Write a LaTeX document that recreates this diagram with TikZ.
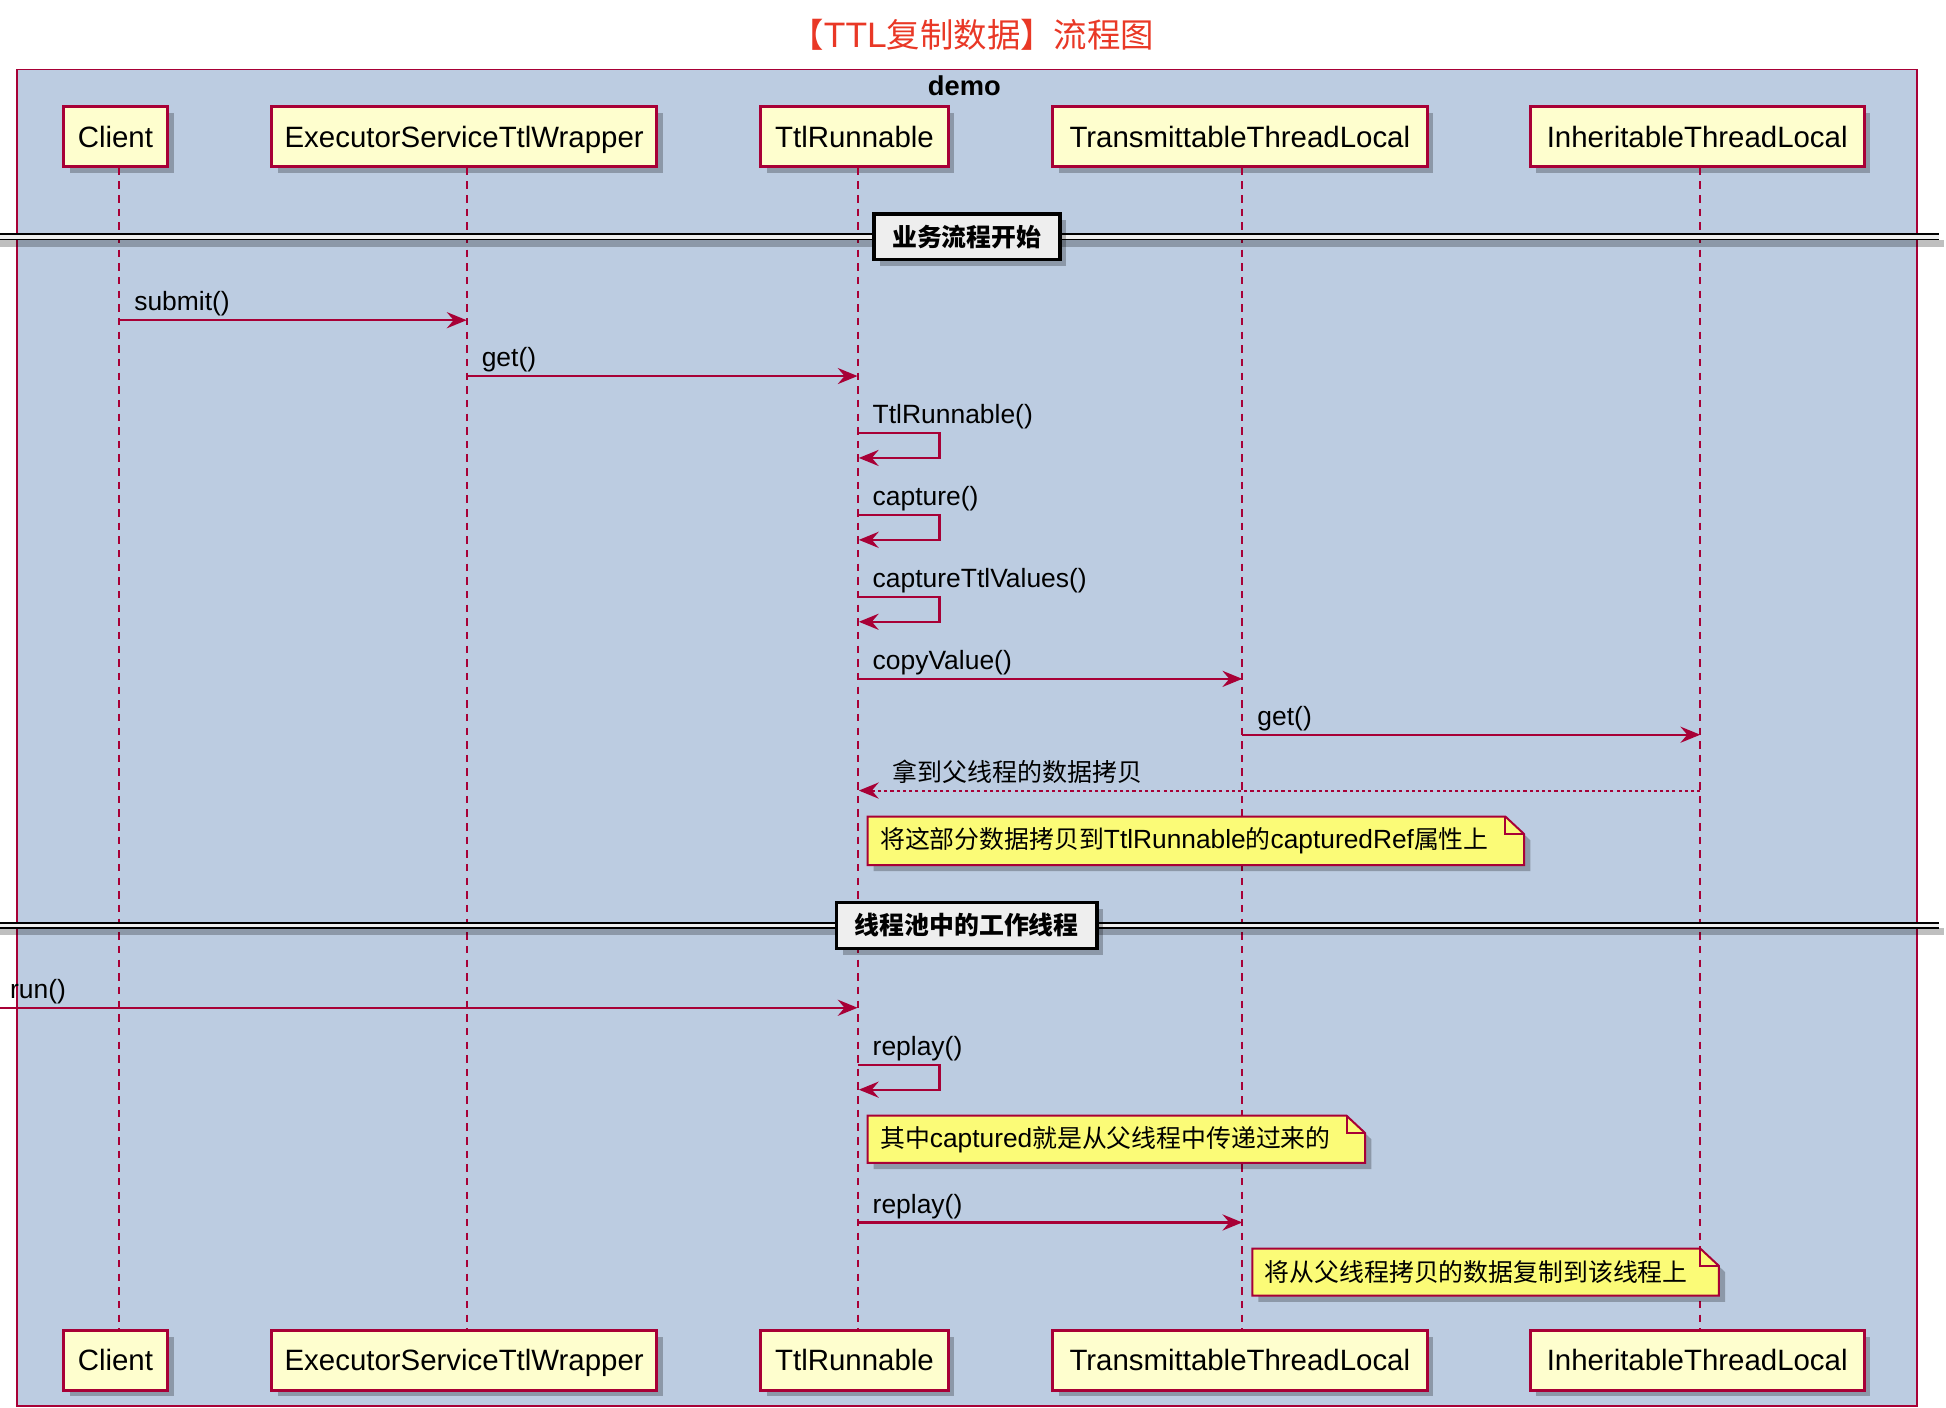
\documentclass[tikz,border=0pt]{standalone}
\usepackage{fontspec}
\setmainfont{Liberation Sans}
\newfontfamily\cjk[Scale=0.945]{Noto Sans CJK SC}
\usetikzlibrary{arrows.meta,shadows,calc}
\newcommand{\zh}[1]{{\cjk #1}}
\definecolor{umlred}{RGB}{168,0,54}
\definecolor{framebg}{RGB}{188,204,225}
\definecolor{partbg}{RGB}{254,254,206}
\definecolor{notebg}{RGB}{251,251,119}
\definecolor{divbg}{RGB}{238,238,238}
\definecolor{titlered}{RGB}{233,56,38}
\tikzset{
  shd/.style={drop shadow={shadow xshift=5pt, shadow yshift=-5pt, opacity=0.25, fill=black}},
  part/.style={draw=umlred, line width=2.4pt, fill=partbg, minimum height=48pt, inner sep=0pt,
    text height=17pt, text depth=0pt, font=\fontsize{23.7}{28}\selectfont, shd},
  lifeline/.style={draw=umlred, line width=1.5pt, dash pattern=on 6pt off 5pt},
  msg/.style={draw=umlred, line width=1.7pt, -{Stealth[length=16pt,width=13pt,inset=5.5pt]}},
  ret/.style={msg, dash pattern=on 2.5pt off 2.5pt},
  lbl/.style={anchor=base west, inner sep=0pt, font=\fontsize{21.3}{25}\selectfont},
  notefr/.style={draw=none, inner sep=0pt, outer sep=0pt},
  noteline/.style={draw=umlred, line width=1.6pt, fill=notebg, shd},
  notefold/.style={draw=umlred, line width=1.6pt},
  notetxt/.style={inner sep=0pt, font=\fontsize{21.2}{25}\selectfont},
  divbox/.style={draw=black, line width=3pt, fill=divbg, inner sep=0pt,
    font=\bfseries\fontsize{21.2}{24}\selectfont, shd},
  frame/.style={draw=umlred, line width=1.6pt, fill=framebg, inner sep=0pt, outer sep=0pt}
}
\newcommand{\umlnote}[6]{%
  \node[notefr, minimum width=#4pt, minimum height=#5pt, anchor=north west] (#1) at (#2,#3) {};
  \draw[noteline] (#1.north west) -- ([xshift=-15pt]#1.north east) -- ([yshift=-14pt]#1.north east)
     -- (#1.south east) -- (#1.south west) -- cycle;
  \draw[notefold] ([xshift=-15pt]#1.north east) -- ([xshift=-15pt,yshift=-14pt]#1.north east)
     -- ([yshift=-14pt]#1.north east);
  \node[notetxt, anchor=west] (#1t) at ([xshift=10pt]#1.west) {#6};}
\newcommand{\umldivider}[5]{% name, y, width, x, text
  \fill[black, opacity=0.25] (0,#2+2.3) rectangle (1566,#2+8);
  \fill[divbg] (0,#2-2.3) rectangle (1562,#2+2.3);
  \draw[line width=1.5pt] (0,#2-2.3) -- (1562,#2-2.3);
  \draw[line width=1.5pt] (0,#2+2.3) -- (1562,#2+2.3);
  \node[divbox, minimum width=#3pt, minimum height=37pt] (#1) at (#4,#2) {#5};}
\begin{document}
\begin{tikzpicture}[x=1pt,y=-1pt]
\useasboundingbox (0,0) rectangle (1568,1134.5);
% title
\node[font=\fontsize{28.5}{33}\selectfont, text=titlered, inner sep=0pt] (title) at (783.5,28) {\zh{【}TTL\zh{复制数据】流程图}};
% frame
\node[frame, minimum width=1531pt, minimum height=1077pt, anchor=north west] (frm) at (14,56) {};
\node[font=\bfseries\fontsize{22}{26}\selectfont, inner sep=0pt] (demo) at (777,69) {demo};
% participants top
\node[part, minimum width=84pt]  (cT) at (93,110) {Client};
\node[part, minimum width=310pt] (eT) at (374,110) {ExecutorServiceTtlWrapper};
\node[part, minimum width=151pt] (rT) at (688.5,110) {TtlRunnable};
\node[part, minimum width=302pt] (tT) at (999,110) {TransmittableThreadLocal};
\node[part, minimum width=269pt] (iT) at (1367.5,110) {InheritableThreadLocal};
% participants bottom
\node[part, minimum width=84pt]  (cB) at (93,1096) {Client};
\node[part, minimum width=310pt] (eB) at (374,1096) {ExecutorServiceTtlWrapper};
\node[part, minimum width=151pt] (rB) at (688.5,1096) {TtlRunnable};
\node[part, minimum width=302pt] (tB) at (999,1096) {TransmittableThreadLocal};
\node[part, minimum width=269pt] (iB) at (1367.5,1096) {InheritableThreadLocal};
% lifeline x positions
\coordinate (lC) at (96,134);
\coordinate (lE) at (376,134);
\coordinate (lR) at (691,134);
\coordinate (lT) at (1001,134);
\coordinate (lI) at (1370,134);
\coordinate (runstart) at (0,812);
\draw[lifeline] (cT.south -| lC) -- (cB.north -| lC);
\draw[lifeline] (eT.south -| lE) -- (eB.north -| lE);
\draw[lifeline] (rT.south -| lR) -- (rB.north -| lR);
\draw[lifeline] (tT.south -| lT) -- (tB.north -| lT);
\draw[lifeline] (iT.south -| lI) -- (iB.north -| lI);
% divider 1
\umldivider{d1}{190.7}{150}{779}{\zh{业务流程开始}}
% messages
\draw[msg] (lC |- 0,258) -- (lE |- 0,258);
\node[lbl] (m1) at (108,250.5) {submit()};
\draw[msg] (lE |- 0,303) -- (lR |- 0,303);
\node[lbl] (m2) at (388,295.5) {get()};
\draw[msg] (lR |- 0,349) -| (757,369) -- ([xshift=1pt]lR |- 0,369);
\node[lbl] (m3) at (703,341.5) {TtlRunnable()};
\draw[msg] (lR |- 0,415) -| (757,435) -- ([xshift=1pt]lR |- 0,435);
\node[lbl] (m4) at (703,407.5) {capture()};
\draw[msg] (lR |- 0,481) -| (757,501) -- ([xshift=1pt]lR |- 0,501);
\node[lbl] (m5) at (703,473.5) {captureTtlValues()};
\draw[msg] (lR |- 0,547) -- (lT |- 0,547);
\node[lbl] (m6) at (703,539.5) {copyValue()};
\draw[msg] (lT |- 0,592) -- (lI |- 0,592);
\node[lbl] (m7) at (1013,584.5) {get()};
\draw[ret] (lI |- 0,637) -- ([xshift=1pt]lR |- 0,637);
\node[lbl] (m8) at (719,629.5) {\zh{拿到父线程的数据拷贝}};
\umlnote{n1}{699}{658}{529}{39}{\zh{将这部分数据拷贝到}TtlRunnable\zh{的}capturedRef\zh{属性上}}
% divider 2
\umldivider{d2}{745.7}{210}{779}{\zh{线程池中的工作线程}}
\draw[msg] (runstart) -- (lR |- runstart);
\node[lbl] (m9) at (8,804.5) {run()};
\draw[msg] (lR |- 0,858) -| (757,878) -- ([xshift=1pt]lR |- 0,878);
\node[lbl] (m10) at (703,850.5) {replay()};
\umlnote{n2}{699}{899}{401}{38}{\zh{其中}captured\zh{就是从父线程中传递过来的}}
\draw[msg] (lR |- 0,985) -- (lT |- 0,985);
\node[lbl] (m11) at (703,977.5) {replay()};
\umlnote{n3}{1009}{1006}{376}{38}{\zh{将从父线程拷贝的数据复制到该线程上}}
\end{tikzpicture}
\end{document}
